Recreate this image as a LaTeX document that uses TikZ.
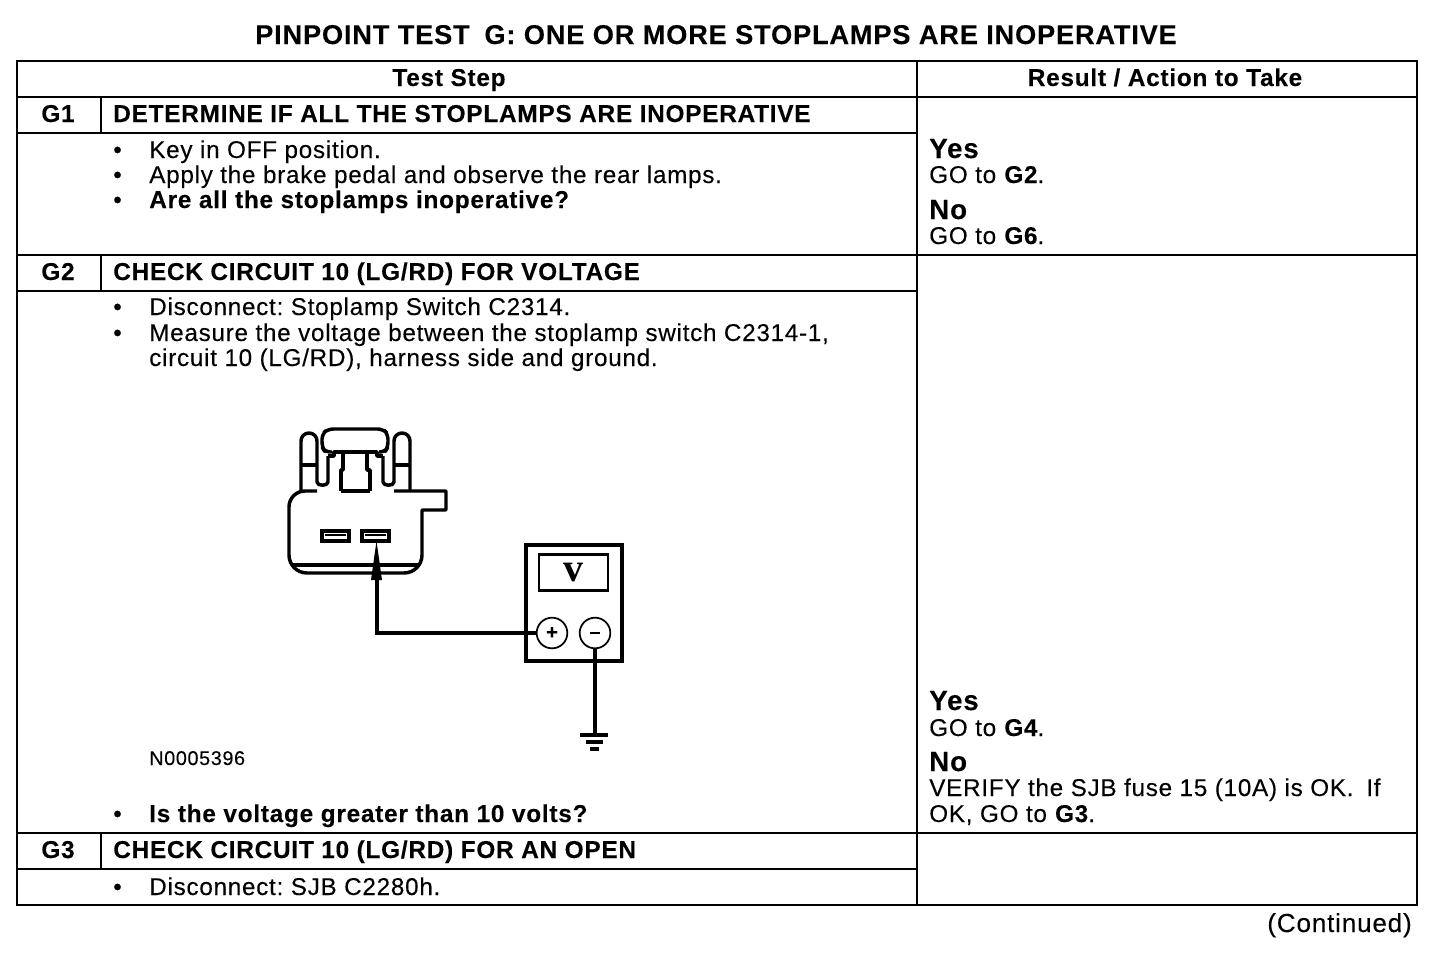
\documentclass[tikz,border=0pt]{standalone}
\usepackage{fontspec}
\setmainfont{Liberation Sans}[LetterSpace=3,FakeBold=0.15]
\newfontfamily\vfont{Liberation Serif}
\usetikzlibrary{arrows.meta}
\frenchspacing

\tikzset{
  bodytxt/.style={anchor=base west, inner sep=0pt, font=\fontsize{18.2}{20}\selectfont},
  headtxt/.style={anchor=base west, inner sep=0pt, font=\fontsize{18.3}{20}\selectfont\bfseries},
  midtxt/.style={anchor=base, inner sep=0pt, font=\fontsize{18.3}{20}\selectfont\bfseries},
  bigtxt/.style={anchor=base west, inner sep=0pt, font=\fontsize{20.8}{20}\selectfont\bfseries},
  rule/.style={line width=1.5pt},
  outline/.style={line width=2.6pt, line join=round},
  wire/.style={line width=3pt},
  jack/.style={draw, circle, line width=1.3pt, minimum size=23pt, inner sep=0pt, font=\fontsize{15}{15}\selectfont\bfseries},
}

\begin{document}
\begin{tikzpicture}[x=0.75pt,y=-0.75pt]
  \useasboundingbox (0,0) rectangle (1456,960);

  % Title
  \node[anchor=base, inner sep=0pt, font=\fontsize{20.4}{20}\selectfont\bfseries] (title) at (716,44) {PINPOINT TEST\hspace{11pt}G: ONE OR MORE STOPLAMPS ARE INOPERATIVE};

  % Table lines
  \draw[rule] (17,61) rectangle (1417,905);
  \draw[rule] (17,97) -- (1417,97);
  \draw[rule] (17,133) -- (917,133);
  \draw[rule] (17,255) -- (1417,255);
  \draw[rule] (17,291) -- (917,291);
  \draw[rule] (17,833) -- (1417,833);
  \draw[rule] (17,869) -- (917,869);
  \draw[rule] (917,61) -- (917,905);
  \draw[rule] (101,97) -- (101,133);
  \draw[rule] (101,255) -- (101,291);
  \draw[rule] (101,833) -- (101,869);

  % Column heads
  \node[midtxt] (stephead) at (449,86) {Test Step};
  \node[midtxt] (resulthead) at (1165,86) {Result / Action to Take};

  % G1
  \node[midtxt] (gone) at (58,122) {G1};
  \node[headtxt] (gonehead) at (113,122) {DETERMINE IF ALL THE STOPLAMPS ARE INOPERATIVE};
  \node[bodytxt] (bulla) at (113,158) {•};
  \node[bodytxt] (linea) at (149,158) {Key in OFF position.};
  \node[bodytxt] (bullb) at (113,183) {•};
  \node[bodytxt] (lineb) at (149,183) {Apply the brake pedal and observe the rear lamps.};
  \node[bodytxt] (bullc) at (113,208) {•};
  \node[headtxt] (linec) at (149,208) {Are all the stoplamps inoperative?};
  \node[bigtxt] (yesa) at (929,158) {Yes};
  \node[bodytxt] (gotoa) at (929,183) {GO to \textbf{G2}.};
  \node[bigtxt] (noa) at (929,219) {No};
  \node[bodytxt] (gotob) at (929,244) {GO to \textbf{G6}.};

  % G2
  \node[midtxt] (gtwo) at (58,280) {G2};
  \node[headtxt] (gtwohead) at (113,280) {CHECK CIRCUIT 10 (LG/RD) FOR VOLTAGE};
  \node[bodytxt] (bulld) at (113,315) {•};
  \node[bodytxt] (lined) at (149,315) {Disconnect: Stoplamp Switch C2314.};
  \node[bodytxt] (bulle) at (113,341) {•};
  \node[bodytxt] (linee) at (149,341) {Measure the voltage between the stoplamp switch C2314-1,};
  \node[bodytxt] (linef) at (149,366) {circuit 10 (LG/RD), harness side and ground.};
  \node[anchor=base west, inner sep=0pt, font=\fontsize{14.9}{15}\selectfont] (partno) at (149,765) {N0005396};
  \node[bodytxt] (bullg) at (113,822) {•};
  \node[headtxt] (lineg) at (149,822) {Is the voltage greater than 10 volts?};
  \node[bigtxt] (yesb) at (929,710) {Yes};
  \node[bodytxt] (gotoc) at (929,736) {GO to \textbf{G4}.};
  \node[bigtxt] (nob) at (929,771) {No};
  \node[bodytxt] (verifya) at (929,796) {VERIFY the SJB fuse 15 (10A) is OK.\hspace{4pt} If};
  \node[bodytxt] (verifyb) at (929,822) {OK, GO to \textbf{G3}.};

  % G3
  \node[midtxt] (gthree) at (58,858) {G3};
  \node[headtxt] (gthreehead) at (113,858) {CHECK CIRCUIT 10 (LG/RD) FOR AN OPEN};
  \node[bodytxt] (bullh) at (113,895) {•};
  \node[bodytxt] (lineh) at (149,895) {Disconnect: SJB C2280h.};

  % Continued
  \node[anchor=base east, inner sep=0pt, font=\fontsize{19.6}{20}\selectfont] (contd) at (1412,932) {(Continued)};

  % Connector body
  \draw[outline] (317,491) -- (305,491) to[out=180,in=90] (289,507) -- (289,555)
    to[out=-90,in=180] (307,573) -- (404,573) to[out=0,in=-90] (422,555) -- (422,510)
    -- (446,510) -- (446,491) -- (394,491);
  \draw[outline] (291,565) -- (420,565);
  \draw[outline] (341,491) -- (370,491);

  % Prongs
  \draw[outline] (301,491) -- (301,441) to[out=90,in=180] (309,433) to[out=0,in=90] (317,441) -- (317,482)
    to[out=-90,in=-90] (328,482) -- (328,456);
  \draw[outline] (410,491) -- (410,441) to[out=90,in=0] (402,433) to[out=180,in=90] (394,441) -- (394,482)
    to[out=-90,in=-90] (383,482) -- (383,456);
  \draw[outline] (301,465) -- (317,465);
  \draw[outline] (394,465) -- (410,465);

  % Latch
  \draw[outline, rounded corners=4pt] (332,452) -- (325,452) -- (322,447) -- (322,434) -- (328,429) -- (383,429) -- (388,434) -- (388,447) -- (385,452) -- (379,452);
  \draw[outline] (328,456) -- (334,456) -- (334,452) -- (377,452) -- (377,456) -- (383,456);
  \draw[outline] (343,454) -- (343,470) -- (341,470) -- (341,491);
  \draw[outline] (367,454) -- (367,470) -- (370,470) -- (370,491);

  % Terminals
  \draw[line width=3pt] (322,531) rectangle (349,541);
  \draw[line width=3pt] (362,531) rectangle (389,541);
  \draw[line width=1pt] (325,535) -- (346,535);
  \draw[line width=1pt] (365,535) -- (386,535);

  % Meter
  \node[draw, line width=3pt, minimum width=72pt, minimum height=87pt, inner sep=0pt] (meter) at (573.5,602.5) {};
  \node[draw, line width=1.6pt, minimum width=52pt, minimum height=27pt, inner sep=0pt, font=\vfont\fontsize{30}{30}\selectfont\bfseries] (screen) at (573.5,572.5) {v};
  \node[jack] (plus) at (552,633) {+};
  \node[jack] (minus) at (595,633) {\rule{7pt}{2pt}};

  % Probe and wires
  \coordinate (tip) at (376.5,541);
  \coordinate (corner) at (377,633);
  \coordinate (gnd) at (595,735);
  \draw[wire] (plus.west) -- (corner) -- (377,570);
  \fill (tip) -- (382,580) -- (371,580) -- cycle;
  \draw[wire] (minus.south) -- (gnd);
  \draw[wire] (580,735) -- (608,735);
  \draw[wire] (586,742) -- (603,742);
  \draw[wire] (590,749) -- (599,749);

\end{tikzpicture}
\end{document}
